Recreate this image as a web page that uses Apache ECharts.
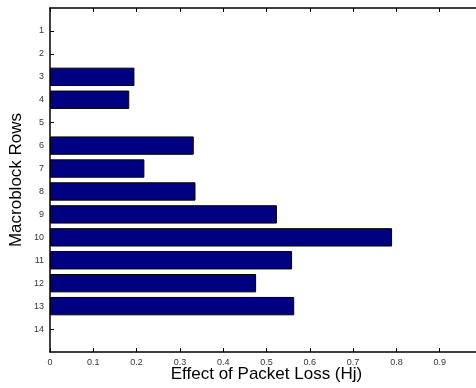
<!DOCTYPE html>
<html>
<head>
<meta charset="utf-8">
<script src="https://cdn.jsdelivr.net/npm/echarts@6/dist/echarts.min.js"></script>
<style>
  html, body { margin: 0; padding: 0; background: #fff; }
  #chart { width: 476px; height: 388px; }
</style>
</head>
<body>
<div id="chart"></div>
<script>
// macroblock rows, top to bottom
const rows = ["1", "2", "3", "4", "5", "6", "7", "8", "9", "10", "11", "12", "13", "14"];
// effect of packet loss per row
const effect = [0, 0, 0.195, 0.183, 0, 0.332, 0.218, 0.336, 0.524, 0.79, 0.559, 0.476, 0.564, 0];
const xTicks = [0, 0.1, 0.2, 0.3, 0.4, 0.5, 0.6, 0.7, 0.8, 0.9, 1];

// pad with an empty slot at each end so the rows sit at 1..14 of a 0..15 range
const yCats = [""].concat(rows, [""]);
const barData = [null].concat(effect.map((v) => (v > 0 ? v : null)), [null]);

const chart = echarts.init(document.getElementById("chart"));

const labelStyle = { fontFamily: "Liberation Sans", fontSize: 9, color: "#333" };
const nameStyle = { fontFamily: "Liberation Sans", fontSize: 17, color: "#000" };

const option = {
  animation: false,
  grid: { left: 50, top: 8, width: 433, height: 344, outerBoundsMode: "none", containLabel: false },
  xAxis: [
    {
      type: "value",
      position: "bottom",
      min: 0,
      max: 1,
      interval: 0.1,
      name: "Effect of Packet Loss (Hj)",
      nameLocation: "middle",
      nameGap: 14,
      nameMoveOverlap: false,
      nameTextStyle: nameStyle,
      axisLine: { show: true, lineStyle: { color: "#000", width: 1.5 } },
      axisTick: { show: true, inside: true, length: 4, lineStyle: { color: "#000" } },
      axisLabel: Object.assign({ margin: 6, formatter: (v) => (xTicks.includes(+v.toFixed(1)) ? String(+v.toFixed(1)) : "") }, labelStyle),
      splitLine: { show: false },
    },
    {
      type: "value",
      position: "top",
      min: 0,
      max: 1,
      interval: 0.1,
      axisLine: { show: true, lineStyle: { color: "#000", width: 1.5 } },
      axisTick: { show: true, inside: true, length: 4, lineStyle: { color: "#000" } },
      axisLabel: { show: false },
      splitLine: { show: false },
    },
  ],
  yAxis: {
    type: "category",
    data: yCats,
    inverse: true,
    boundaryGap: false,
    name: "Macroblock Rows",
    nameLocation: "middle",
    nameGap: 25,
    nameMoveOverlap: false,
    nameTextStyle: nameStyle,
    axisLine: { show: true, lineStyle: { color: "#000", width: 1.5 } },
    axisTick: { show: true, inside: true, length: 4, interval: (i, v) => v !== "", lineStyle: { color: "#000" } },
    axisLabel: Object.assign({ margin: 6, interval: 0 }, labelStyle),
    splitLine: { show: false },
  },
  series: [
    {
      type: "bar",
      xAxisIndex: 0,
      data: barData,
      barWidth: "80%",
      itemStyle: { color: "#000080", borderColor: "#000", borderWidth: 1 },
    },
  ],
};

chart.setOption(option);
</script>
</body>
</html>
